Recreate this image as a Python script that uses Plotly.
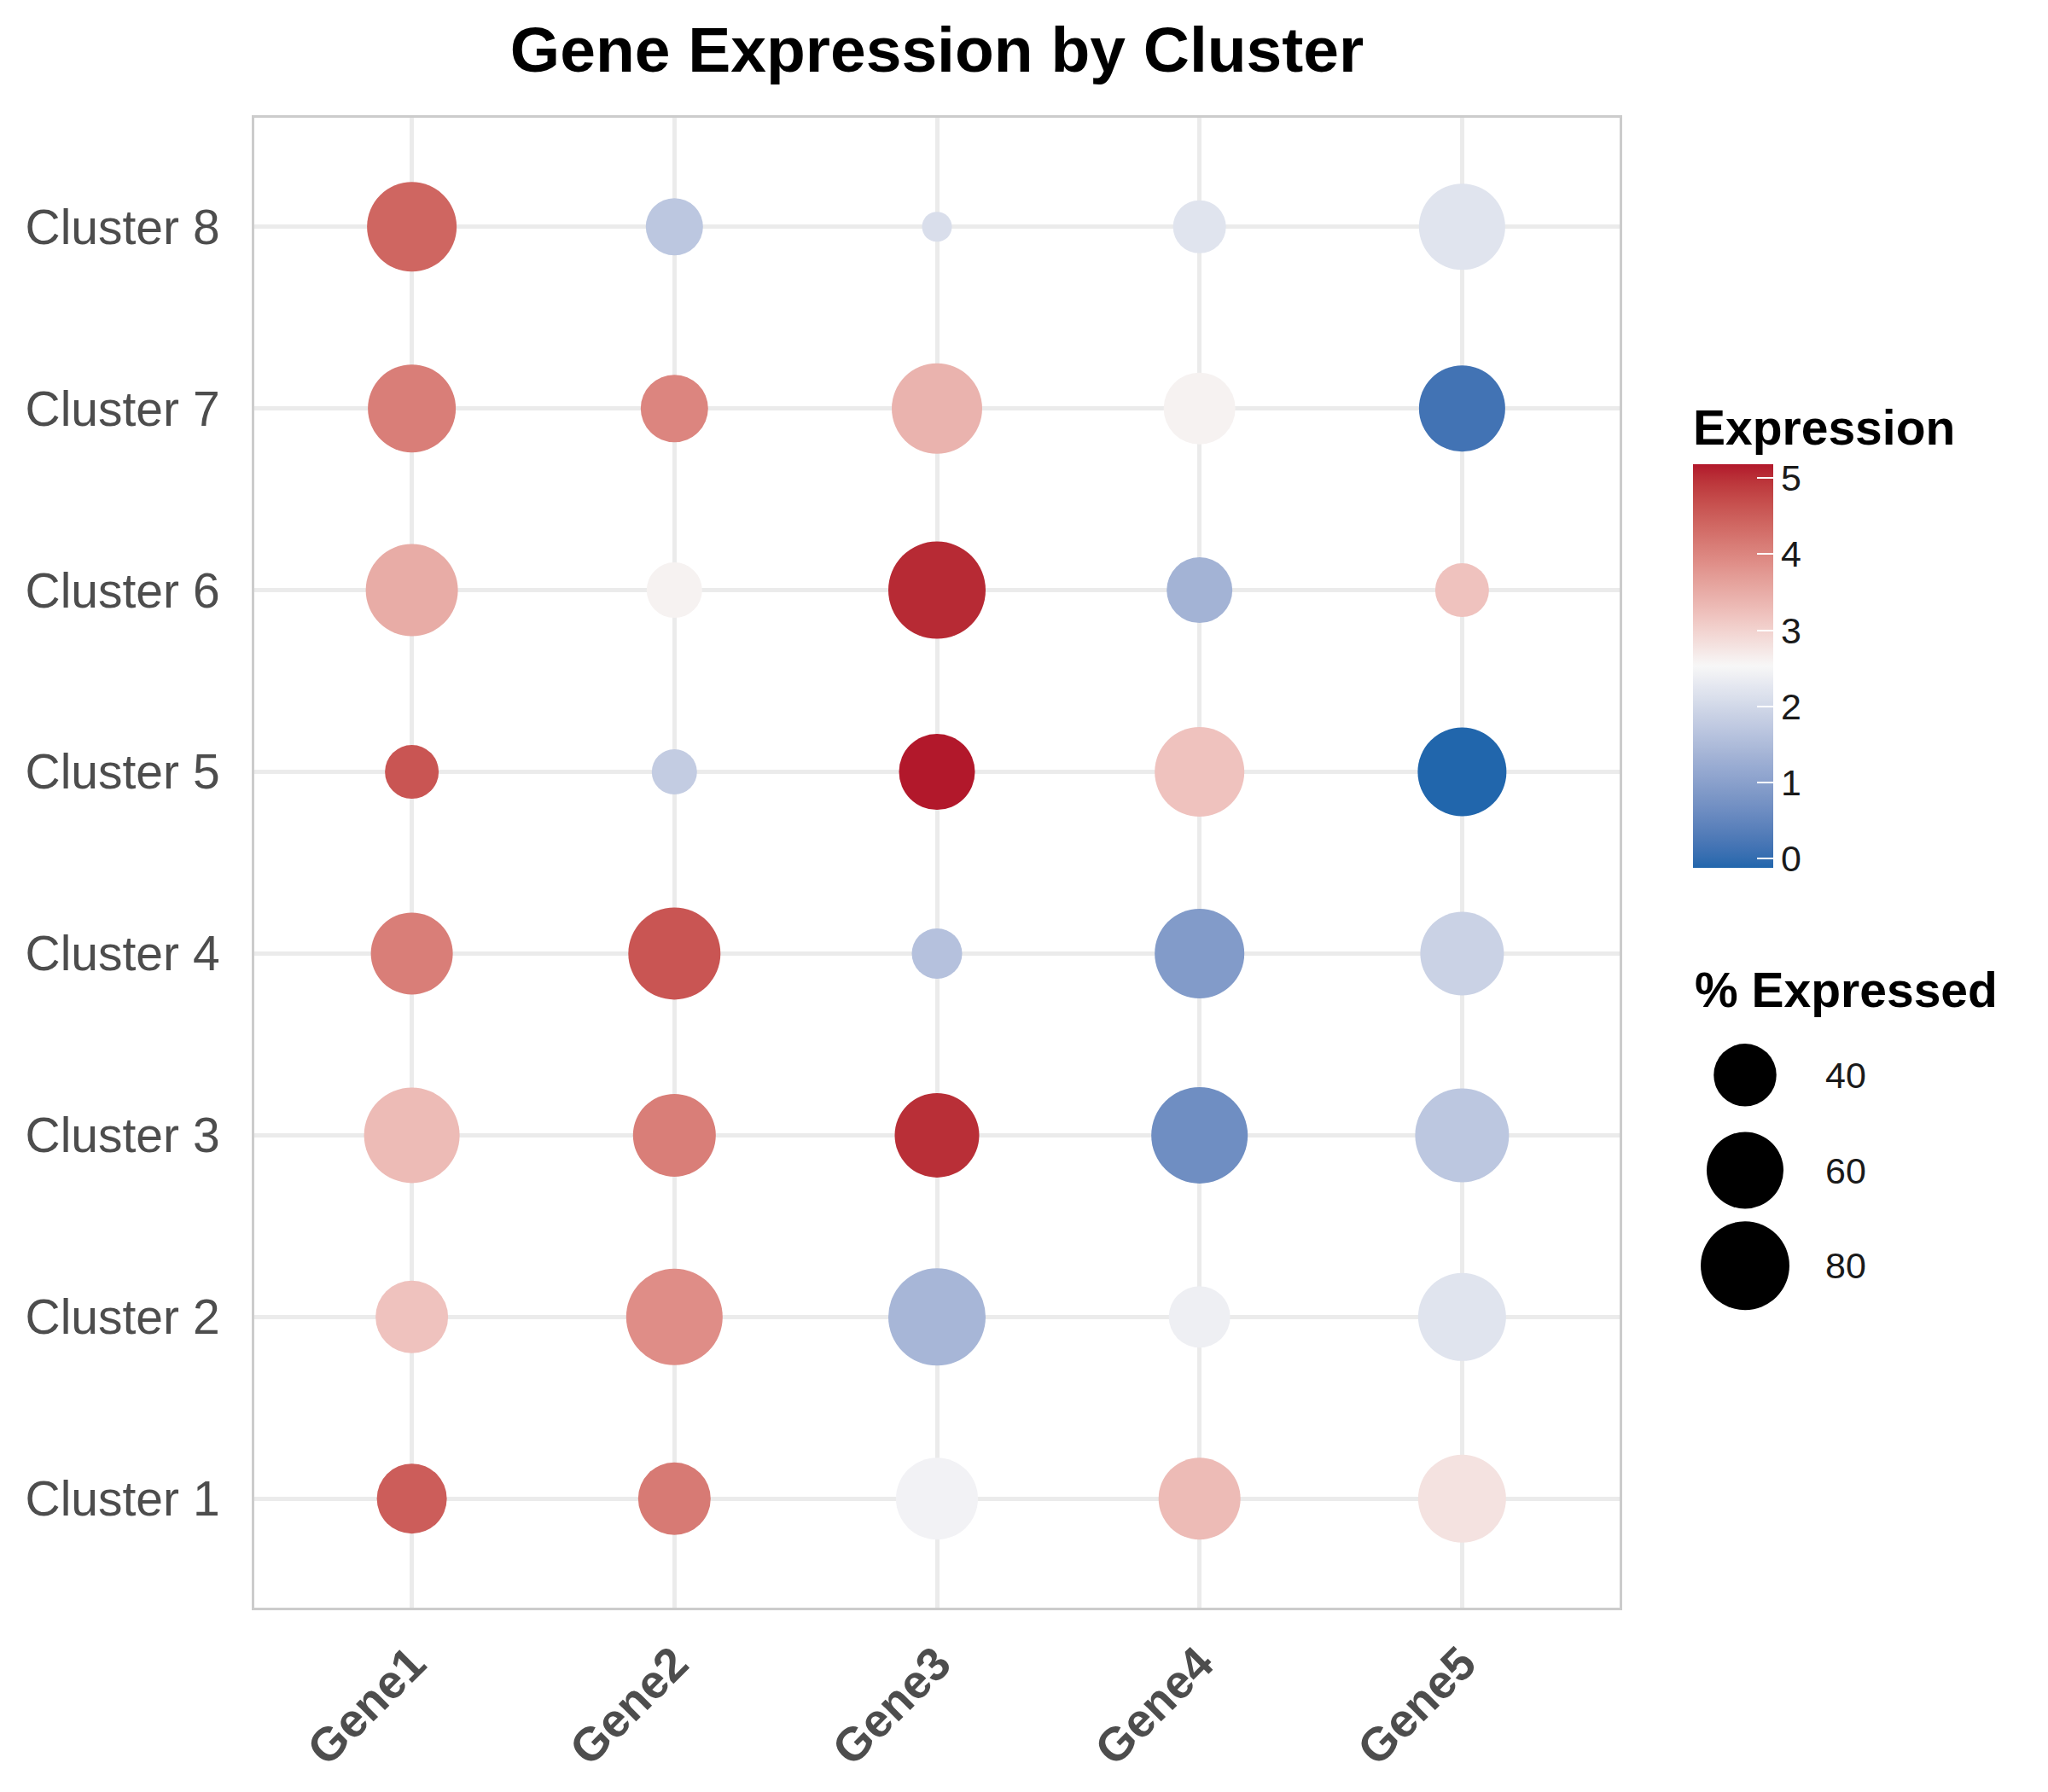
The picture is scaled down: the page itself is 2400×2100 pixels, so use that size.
import numpy as np
import plotly.graph_objects as go

# categories
genes = ["Gene1", "Gene2", "Gene3", "Gene4", "Gene5"]
clusters = ["Cluster 1", "Cluster 2", "Cluster 3", "Cluster 4",
            "Cluster 5", "Cluster 6", "Cluster 7", "Cluster 8"]

# mean expression, Cluster 1 -> Cluster 8
gene1_expr = [4.5, 3.2, 3.3, 4.1, 4.6, 3.5, 4.1, 4.4]
gene2_expr = [4.15, 3.9, 4.1, 4.6, 1.8, 2.6, 4.0, 1.7]
gene3_expr = [2.45, 1.4, 5.0, 1.6, 5.18, 5.05, 3.4, 2.1]
gene4_expr = [3.3, 2.4, 0.65, 0.9, 3.2, 1.35, 2.6, 2.2]
gene5_expr = [2.8, 2.2, 1.7, 1.9, -0.12, 3.2, 0.15, 2.2]

# % of cells expressing, Cluster 1 -> Cluster 8
gene1_pct = [49.8, 53.5, 92.9, 68.3, 29.4, 86.4, 78.6, 81.7]
gene2_pct = [53.5, 94.6, 69.7, 86.4, 20.8, 31.3, 46.2, 33.3]
gene3_pct = [68.3, 96.3, 72.6, 25.8, 58.7, 96.3, 83.2, 9.1]
gene4_pct = [68.3, 38.4, 94.6, 81.7, 81.7, 43.9, 52.3, 28.5]
gene5_pct = [78.6, 78.6, 89.6, 71.1, 80.1, 29.4, 75.6, 75.6]

# size legend entries
size_breaks = [40, 60, 80]
colorbar_ticks = [0, 1, 2, 3, 4, 5]

expr_cols = [gene1_expr, gene2_expr, gene3_expr, gene4_expr, gene5_expr]
pct_cols = [gene1_pct, gene2_pct, gene3_pct, gene4_pct, gene5_pct]

xs, ys, cs, ss = [], [], [], []
for g, e_list, p_list in zip(genes, expr_cols, pct_cols):
    for c, e, p in zip(clusters, e_list, p_list):
        xs.append(g)
        ys.append(c)
        cs.append(e)
        ss.append(p)


# blue - white - red gradient, interpolated in Lab like ggplot's gradient2
def hex_to_lab(h):
    rgb = np.array([int(h[i:i + 2], 16) for i in (1, 3, 5)]) / 255.0
    lin = np.where(rgb <= 0.04045, rgb / 12.92, ((rgb + 0.055) / 1.055) ** 2.4)
    m = np.array([[0.4124, 0.3576, 0.1805],
                  [0.2126, 0.7152, 0.0722],
                  [0.0193, 0.1192, 0.9505]])
    xyz = m @ lin / np.array([0.95047, 1.0, 1.08883])
    f = np.where(xyz > 0.008856, np.cbrt(xyz), 7.787 * xyz + 16 / 116)
    return np.array([116 * f[1] - 16, 500 * (f[0] - f[1]), 200 * (f[1] - f[2])])


def lab_to_rgb(lab):
    fy = (lab[0] + 16) / 116
    fx = fy + lab[1] / 500
    fz = fy - lab[2] / 200
    f = np.array([fx, fy, fz])
    xyz = np.where(f ** 3 > 0.008856, f ** 3, (f - 16 / 116) / 7.787)
    xyz = xyz * np.array([0.95047, 1.0, 1.08883])
    m = np.array([[3.2406, -1.5372, -0.4986],
                  [-0.9689, 1.8758, 0.0415],
                  [0.0557, -0.2040, 1.0570]])
    lin = np.clip(m @ xyz, 0, 1)
    rgb = np.where(lin <= 0.0031308, 12.92 * lin, 1.055 * lin ** (1 / 2.4) - 0.055)
    r, g, b = (np.clip(rgb, 0, 1) * 255).round().astype(int)
    return f"rgb({r},{g},{b})"


low, mid, high = hex_to_lab("#2166AC"), hex_to_lab("#F7F7F7"), hex_to_lab("#B2182B")
colorscale = []
for t in np.linspace(0, 1, 41):
    if t <= 0.5:
        lab = low + (mid - low) * (t / 0.5)
    else:
        lab = mid + (high - mid) * ((t - 0.5) / 0.5)
    colorscale.append([float(t), lab_to_rgb(lab)])

W, H = 2400, 2100
FONT = "Liberation Sans, Arial, Helvetica, sans-serif"
sizeref = 2 / 135  # diameter^2 ~ 135 * pct

fig = go.Figure()

fig.add_trace(go.Scatter(
    x=xs, y=ys, mode="markers",
    marker=dict(
        size=ss, sizemode="area", sizeref=sizeref, sizemin=1,
        color=cs, colorscale=colorscale,
        line=dict(width=0), opacity=1,
        colorbar=dict(
            title=dict(text="Expression", side="top",
                       font=dict(size=57, family=FONT, color="black", weight="bold")),
            x=1976 / W, xanchor="left", xpad=0,
            y=1 - 467 / H, yanchor="top", ypad=0,
            lenmode="pixels", len=542, thickness=94,
            outlinewidth=0,
            tickvals=colorbar_ticks,
            ticks="inside", ticklen=19, tickcolor="white", tickwidth=2,
            tickprefix="\u00a0",
            tickfont=dict(size=43, family=FONT, color="#1A1A1A"),
        ),
    ),
    showlegend=False, hoverinfo="x+y",
))

# size legend, drawn on its own little axis pair
fig.add_trace(go.Scatter(
    x=[0] * len(size_breaks), y=[str(v) for v in size_breaks],
    mode="markers", xaxis="x2", yaxis="y2", cliponaxis=False,
    marker=dict(size=size_breaks, sizemode="area", sizeref=sizeref,
                color="black", opacity=1, line=dict(width=0)),
    showlegend=False, hoverinfo="skip",
))

fig.add_annotation(
    text="% Expressed", xref="paper", yref="paper",
    x=1976 / W, y=1 - 1152 / H, xanchor="left", yanchor="middle",
    showarrow=False, font=dict(size=57, family=FONT, color="black", weight="bold"),
)

fig.update_layout(
    width=W, height=H,
    margin=dict(l=0, r=0, t=0, b=0, pad=0),
    paper_bgcolor="white", plot_bgcolor="white",
    font=dict(family=FONT),
    title=dict(
        text="Gene Expression by Cluster",
        font=dict(size=75, family=FONT, color="black", weight="bold"),
        x=1090 / W, xanchor="center", xref="paper",
        y=1 - 50 / H, yanchor="middle", yref="container",
    ),
    xaxis=dict(
        domain=[290 / W, 1890 / W],
        categoryorder="array", categoryarray=genes,
        range=[-0.6, 4.6],
        showgrid=True, gridcolor="#EBEBEB", gridwidth=5,
        zeroline=False, showline=True, linecolor="#CCCCCC", linewidth=3, mirror=True,
        tickangle=-45, ticks="", ticklabelstandoff=8,
        tickfont=dict(size=55, family=FONT, color="#4D4D4D", weight="bold"),
        automargin=False, fixedrange=True,
    ),
    yaxis=dict(
        domain=[1 - 1876 / H, 1 - 130 / H],
        categoryorder="array", categoryarray=clusters,
        range=[-0.6, 7.6],
        showgrid=True, gridcolor="#EBEBEB", gridwidth=5,
        zeroline=False, showline=True, linecolor="#CCCCCC", linewidth=3, mirror=True,
        ticks="", ticklabelstandoff=26,
        tickfont=dict(size=57, family=FONT, color="#4D4D4D"),
        automargin=False, fixedrange=True,
    ),
    xaxis2=dict(
        domain=[1994 / W, 2080 / W], anchor="y2", range=[-1, 1],
        visible=False, fixedrange=True,
    ),
    yaxis2=dict(
        domain=[1 - 1531 / H, 1 - 1196 / H], anchor="x2", side="right",
        categoryorder="array", categoryarray=[str(v) for v in reversed(size_breaks)],
        range=[-0.5, 2.5],
        showgrid=False, zeroline=False, showline=False, ticks="",
        ticklabelstandoff=50,
        tickfont=dict(size=43, family=FONT, color="#1A1A1A"),
        automargin=False, fixedrange=True,
    ),
)

fig.write_html("out.html")
